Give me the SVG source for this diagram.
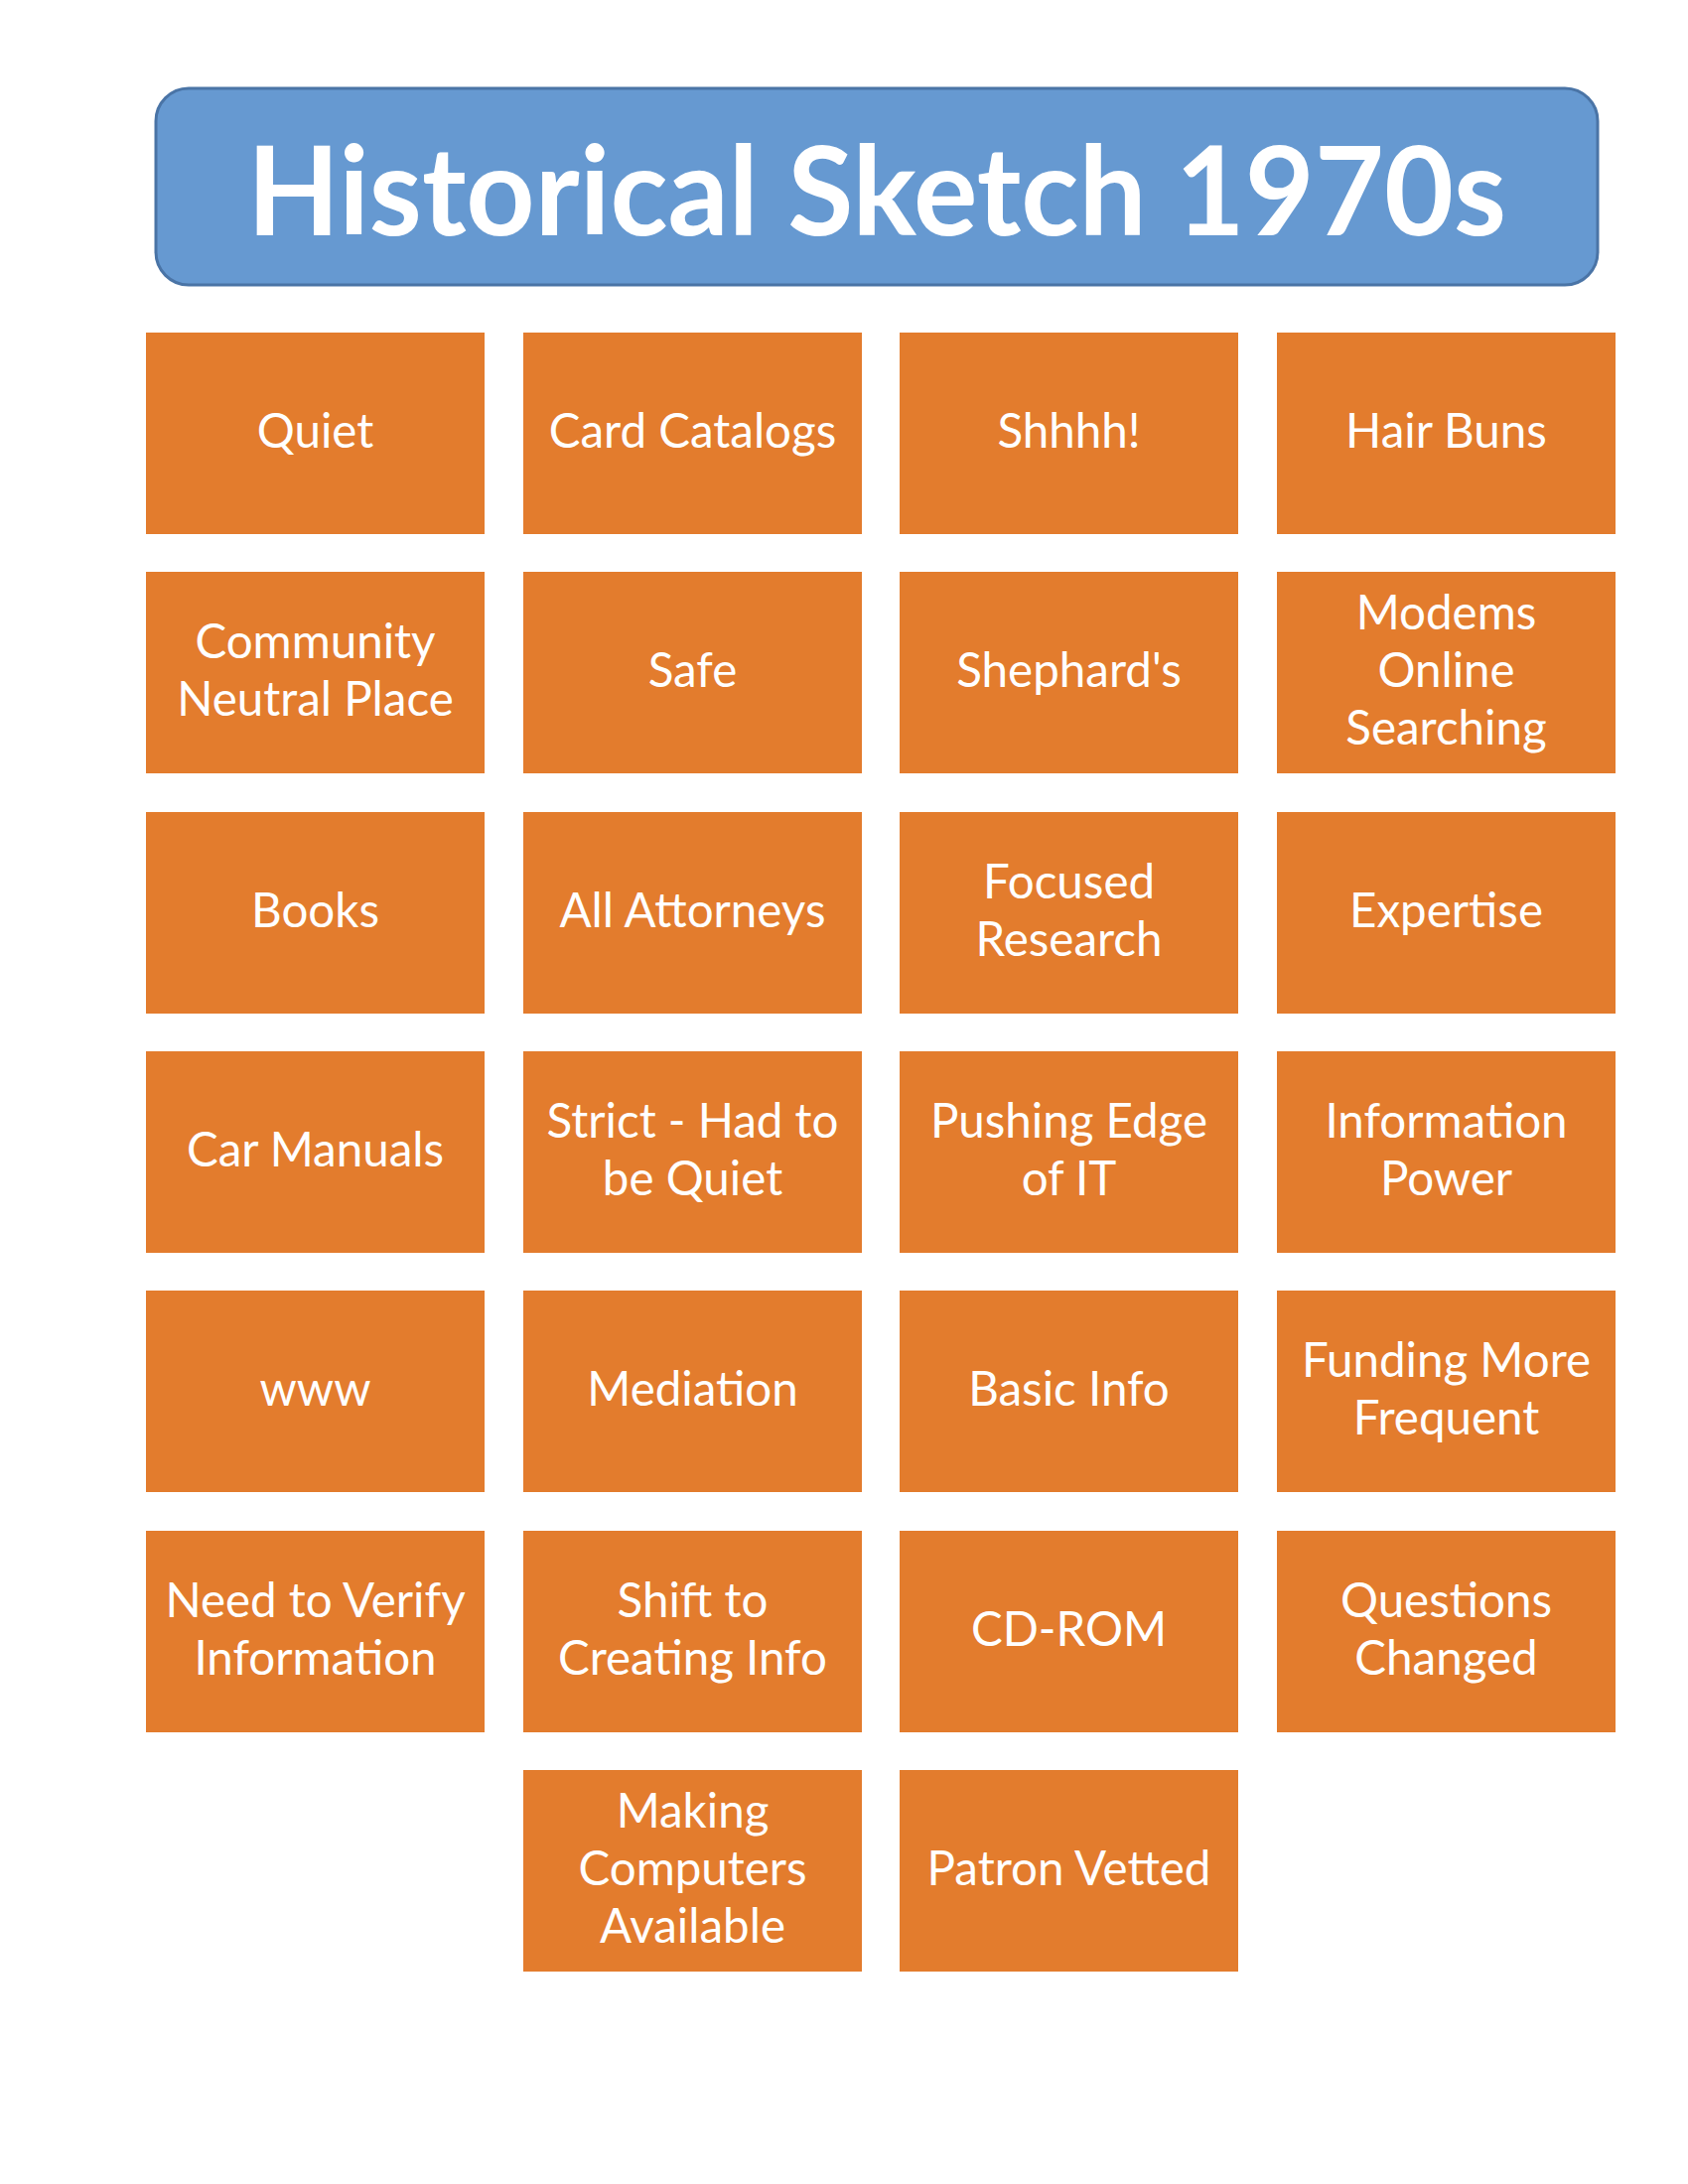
<svg xmlns="http://www.w3.org/2000/svg" width="1700" height="2200" viewBox="0 0 1700 2200">
<style>
.box{fill:#E37C2D;}
.t{font-family:Lato,"Liberation Sans",sans-serif;font-size:47.5px;fill:#FFFFFF;text-anchor:middle;}
.title{font-family:Lato,"Liberation Sans",sans-serif;font-weight:bold;font-size:124px;fill:#FFFFFF;text-anchor:middle;}
</style>
<rect x="0" y="0" width="1700" height="2200" fill="#FFFFFF"/>
<g id="title">
<rect x="157" y="89" width="1452" height="198" rx="33" ry="33" fill="#6699D1" stroke="#4A74A6" stroke-width="3"/>
<text class="title" x="883" y="237" textLength="1268" lengthAdjust="spacingAndGlyphs">Historical Sketch 1970s</text>
</g>
<g id="n1"><rect class="box" x="147" y="335" width="341" height="203"/><text class="t" x="317.5" y="451">Quiet</text></g>
<g id="n2"><rect class="box" x="527" y="335" width="341" height="203"/><text class="t" x="697.5" y="451">Card Catalogs</text></g>
<g id="n3"><rect class="box" x="906" y="335" width="341" height="203"/><text class="t" x="1076.5" y="451">Shhhh!</text></g>
<g id="n4"><rect class="box" x="1286" y="335" width="341" height="203"/><text class="t" x="1456.5" y="451">Hair Buns</text></g>

<g id="n5"><rect class="box" x="147" y="576" width="341" height="203"/><text class="t" x="317.5" y="663">Community</text><text class="t" x="317.5" y="721">Neutral Place</text></g>
<g id="n6"><rect class="box" x="527" y="576" width="341" height="203"/><text class="t" x="697.5" y="692">Safe</text></g>
<g id="n7"><rect class="box" x="906" y="576" width="341" height="203"/><text class="t" x="1076.5" y="692">Shephard's</text></g>
<g id="n8"><rect class="box" x="1286" y="576" width="341" height="203"/><text class="t" x="1456.5" y="634">Modems</text><text class="t" x="1456.5" y="692">Online</text><text class="t" x="1456.5" y="750">Searching</text></g>

<g id="n9"><rect class="box" x="147" y="818" width="341" height="203"/><text class="t" x="317.5" y="934">Books</text></g>
<g id="n10"><rect class="box" x="527" y="818" width="341" height="203"/><text class="t" x="697.5" y="934">All Attorneys</text></g>
<g id="n11"><rect class="box" x="906" y="818" width="341" height="203"/><text class="t" x="1076.5" y="905">Focused</text><text class="t" x="1076.5" y="963">Research</text></g>
<g id="n12"><rect class="box" x="1286" y="818" width="341" height="203"/><text class="t" x="1456.5" y="934">Expertise</text></g>

<g id="n13"><rect class="box" x="147" y="1059" width="341" height="203"/><text class="t" x="317.5" y="1175">Car Manuals</text></g>
<g id="n14"><rect class="box" x="527" y="1059" width="341" height="203"/><text class="t" x="697.5" y="1146">Strict - Had to</text><text class="t" x="697.5" y="1204">be Quiet</text></g>
<g id="n15"><rect class="box" x="906" y="1059" width="341" height="203"/><text class="t" x="1076.5" y="1146">Pushing Edge</text><text class="t" x="1076.5" y="1204">of IT</text></g>
<g id="n16"><rect class="box" x="1286" y="1059" width="341" height="203"/><text class="t" x="1456.5" y="1146">Information</text><text class="t" x="1456.5" y="1204">Power</text></g>

<g id="n17"><rect class="box" x="147" y="1300" width="341" height="203"/><text class="t" x="317.5" y="1416">www</text></g>
<g id="n18"><rect class="box" x="527" y="1300" width="341" height="203"/><text class="t" x="697.5" y="1416">Mediation</text></g>
<g id="n19"><rect class="box" x="906" y="1300" width="341" height="203"/><text class="t" x="1076.5" y="1416">Basic Info</text></g>
<g id="n20"><rect class="box" x="1286" y="1300" width="341" height="203"/><text class="t" x="1456.5" y="1387">Funding More</text><text class="t" x="1456.5" y="1445">Frequent</text></g>

<g id="n21"><rect class="box" x="147" y="1542" width="341" height="203"/><text class="t" x="317.5" y="1629">Need to Verify</text><text class="t" x="317.5" y="1687">Information</text></g>
<g id="n22"><rect class="box" x="527" y="1542" width="341" height="203"/><text class="t" x="697.5" y="1629">Shift to</text><text class="t" x="697.5" y="1687">Creating Info</text></g>
<g id="n23"><rect class="box" x="906" y="1542" width="341" height="203"/><text class="t" x="1076.5" y="1658">CD-ROM</text></g>
<g id="n24"><rect class="box" x="1286" y="1542" width="341" height="203"/><text class="t" x="1456.5" y="1629">Questions</text><text class="t" x="1456.5" y="1687">Changed</text></g>

<g id="n25"><rect class="box" x="527" y="1783" width="341" height="203"/><text class="t" x="697.5" y="1841">Making</text><text class="t" x="697.5" y="1899">Computers</text><text class="t" x="697.5" y="1957">Available</text></g>
<g id="n26"><rect class="box" x="906" y="1783" width="341" height="203"/><text class="t" x="1076.5" y="1899">Patron Vetted</text></g>
<g id="connectors"></g>
</svg>
